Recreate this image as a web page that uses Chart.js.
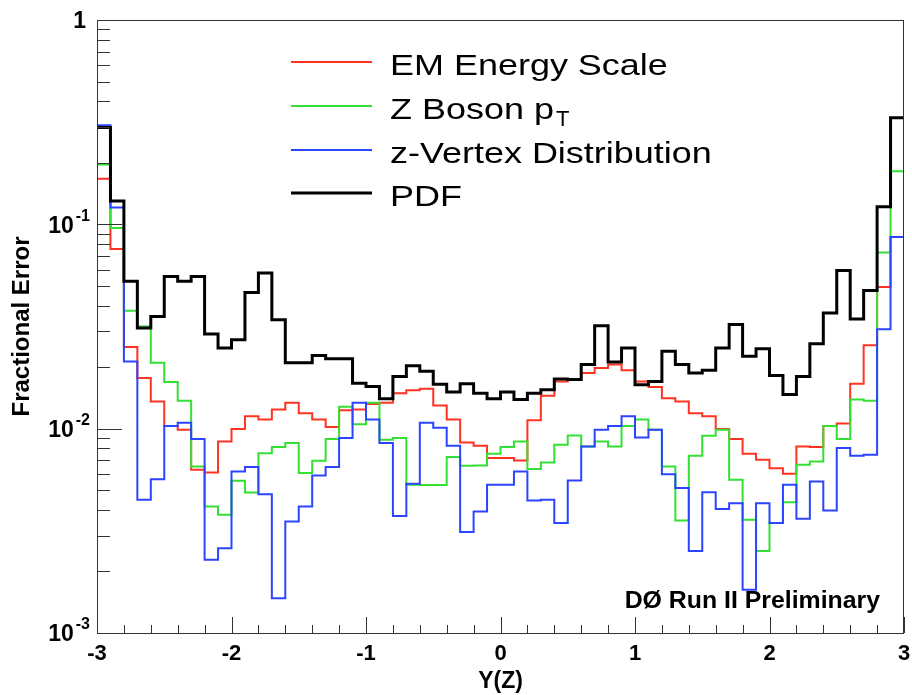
<!DOCTYPE html>
<html>
<head>
<meta charset="utf-8">
<script src="https://cdn.jsdelivr.net/npm/chart.js@4.4.0/dist/chart.umd.min.js"></script>
<style>
html,body{margin:0;padding:0;background:#fff;}
#c{display:block;}
</style>
</head>
<body>
<canvas id="c" width="912" height="695"></canvas>
<script>
// ---- data ----
const binEdges = [-3.0,-2.9,-2.8,-2.7,-2.6,-2.5,-2.4,-2.3,-2.2,-2.1,
  -2.0,-1.9,-1.8,-1.7,-1.6,-1.5,-1.4,-1.3,-1.2,-1.1,
  -1.0,-0.9,-0.8,-0.7,-0.6,-0.5,-0.4,-0.3,-0.2,-0.1,
  0.0,0.1,0.2,0.3,0.4,0.5,0.6,0.7,0.8,0.9,
  1.0,1.1,1.2,1.3,1.4,1.5,1.6,1.7,1.8,1.9,
  2.0,2.1,2.2,2.3,2.4,2.5,2.6,2.7,2.8,2.9,3.0];

const emEnergyScale = [0.167,0.0758,0.0251,0.0177,0.0136,0.0103,0.00988,0.00629,0.00610,0.00866,
  0.00995,0.0115,0.0111,0.0124,0.0134,0.0119,0.0111,0.0102,0.0123,0.0124,
  0.0132,0.0134,0.0149,0.0154,0.0157,0.0130,0.0111,0.00856,0.00824,0.00718,
  0.00718,0.00699,0.0110,0.0145,0.0170,0.0174,0.0187,0.0198,0.0206,0.0193,
  0.0170,0.0160,0.0141,0.0136,0.0119,0.0115,0.00995,0.00890,0.00753,0.00704,
  0.00641,0.00601,0.00818,0.00814,0.0103,0.0106,0.0166,0.0256,0.0494,0.0868];

const zBosonPt = [0.196,0.0960,0.0378,0.0316,0.0210,0.0169,0.0137,0.00653,0.00416,0.00379,
  0.00556,0.00487,0.00759,0.00813,0.00850,0.00606,0.00696,0.00890,0.0128,0.0105,
  0.0134,0.00882,0.00899,0.00531,0.00530,0.00530,0.00726,0.00658,0.00660,0.00753,
  0.00813,0.00866,0.00634,0.00683,0.00834,0.00926,0.00818,0.00866,0.00818,0.0103,
  0.0111,0.00988,0.00653,0.00355,0.00737,0.00923,0.00988,0.00562,0.00358,0.00252,
  0.00345,0.00437,0.00666,0.00691,0.0103,0.00890,0.0139,0.0137,0.0729,0.182];

const zVertex = [0.305,0.121,0.0213,0.00449,0.00566,0.0103,0.0107,0.00890,0.00228,0.00260,
  0.00617,0.00649,0.00478,0.00148,0.00351,0.00416,0.00590,0.00649,0.00899,0.0134,
  0.0111,0.00850,0.00374,0.00537,0.0107,0.0101,0.00824,0.00312,0.00393,0.00531,
  0.00531,0.00617,0.00445,0.00449,0.00345,0.00557,0.00818,0.00988,0.0103,0.0115,
  0.00905,0.00988,0.00599,0.00512,0.00252,0.00489,0.00405,0.00432,0.00163,0.00432,
  0.00345,0.00531,0.00362,0.00551,0.00398,0.00804,0.00737,0.00745,0.0307,0.0868];

const pdf = [0.298,0.130,0.0526,0.0311,0.0354,0.0556,0.0526,0.0556,0.0291,0.0248,
  0.0272,0.0464,0.0578,0.0341,0.0210,0.0210,0.0228,0.0220,0.0220,0.0167,
  0.0161,0.0140,0.0180,0.0203,0.0191,0.0165,0.0151,0.0166,0.0149,0.0140,
  0.0151,0.0139,0.0149,0.0155,0.0175,0.0174,0.0206,0.0319,0.0212,0.0248,
  0.0164,0.0170,0.0239,0.0206,0.0187,0.0193,0.0248,0.0323,0.0226,0.0246,
  0.0182,0.0147,0.0180,0.0260,0.0368,0.0595,0.0344,0.0475,0.122,0.332];

const seriesNames = ['EM Energy Scale','Z Boson p','z-Vertex Distribution','PDF'];
const seriesSubs  = ['','T','',''];
const seriesColors = ['#ff3322','#33e033','#2a44ff','#000000'];

const xTickLabels = ['-3','-2','-1','0','1','2','3'];
const yDecades = [1, 0.1, 0.01, 0.001];
const yDecadeBase = ['1','10','10','10'];
const yDecadeExp = ['','-1','-2','-3'];

const FONT = '"Liberation Sans", Arial, Helvetica, sans-serif';
Chart.defaults.font.family = FONT;

function steps(vals){
  const pts = vals.map((v,i)=>({x: binEdges[i], y: v}));
  pts.push({x: binEdges[vals.length], y: vals[vals.length-1]});
  return pts;
}

const seriesValues = [emEnergyScale, zBosonPt, zVertex, pdf];
const datasets = seriesValues.map((vals,i)=>({
  label: seriesNames[i] + seriesSubs[i],
  data: steps(vals),
  borderColor: seriesColors[i],
  backgroundColor: seriesColors[i],
  borderWidth: i===3 ? 3 : 2,
  stepped: 'before',
  pointRadius: 0,
  fill: false,
  order: 3 - i
}));

function stretchText(ctx, txt, x, y, sx){
  ctx.save(); ctx.translate(x,y); ctx.scale(sx,1); ctx.fillText(txt,0,0); ctx.restore();
}

const decor = {
  id: 'decor',
  afterDraw(chart){
    const {ctx, chartArea:a, scales:{x, y}} = chart;
    ctx.save();
    ctx.strokeStyle = '#333'; ctx.lineWidth = 1;
    // frame
    ctx.strokeRect(Math.round(a.left)+0.5, Math.round(a.top)+0.5,
                   Math.round(a.right-a.left)-1, Math.round(a.bottom-a.top));
    // x ticks
    ctx.beginPath();
    for (let i=0;i<=30;i++){
      const v = -3 + i*0.2;
      const px = Math.round(x.getPixelForValue(v))+0.5;
      const len = (i%5===0) ? 16 : 8;
      ctx.moveTo(px, a.bottom); ctx.lineTo(px, a.bottom-len);
    }
    // y ticks
    for (let d=0; d<yDecades.length; d++){
      const dv = yDecades[d];
      const py = Math.round(y.getPixelForValue(dv))+0.5;
      ctx.moveTo(a.left, py); ctx.lineTo(a.left+25, py);
      if (dv < 1){
        for (let m=2;m<=9;m++){
          const p2 = Math.round(y.getPixelForValue(dv*m))+0.5;
          ctx.moveTo(a.left, p2); ctx.lineTo(a.left+13, p2);
        }
      }
    }
    ctx.stroke();

    // y labels
    ctx.fillStyle = '#000';
    ctx.textBaseline = 'middle';
    for (let d=0; d<yDecades.length; d++){
      const py = y.getPixelForValue(yDecades[d]) + 2;
      const rightX = a.left - 7;
      if (!yDecadeExp[d]){
        ctx.font = 'bold 23px ' + FONT; ctx.textAlign = 'right';
        stretchText(ctx, yDecadeBase[d], rightX - 4, py, 1.0);
      } else {
        ctx.font = 'bold 16px ' + FONT;
        const ew = ctx.measureText(yDecadeExp[d]).width;
        ctx.textAlign = 'left';
        ctx.fillText(yDecadeExp[d], rightX - ew, py - 10);
        ctx.font = 'bold 23px ' + FONT; ctx.textAlign = 'right';
        ctx.fillText(yDecadeBase[d], rightX - ew - 2, py);
      }
    }

    // legend
    const legX0 = 291, legX1 = 372, legTextX = 390;
    const legY = [62, 106, 150, 193];
    ctx.textAlign = 'left'; ctx.textBaseline = 'alphabetic';
    for (let i=0;i<seriesNames.length;i++){
      ctx.strokeStyle = seriesColors[i];
      ctx.lineWidth = i===3 ? 3 : 2;
      ctx.beginPath(); ctx.moveTo(legX0, legY[i]); ctx.lineTo(legX1, legY[i]); ctx.stroke();
      ctx.fillStyle = '#000';
      ctx.font = '29px ' + FONT;
      stretchText(ctx, seriesNames[i], legTextX, legY[i] + 12.5, 1.24);
      if (seriesSubs[i]){
        const w = ctx.measureText(seriesNames[i]).width * 1.24;
        ctx.font = '22px ' + FONT;
        stretchText(ctx, seriesSubs[i], legTextX + w + 2, legY[i] + 20, 1.0);
      }
    }

    // annotation
    ctx.font = 'bold 23px ' + FONT;
    ctx.textAlign = 'left';
    const label = 'D\u00D8 Run II Preliminary';
    const lw = ctx.measureText(label).width * 1.08;
    stretchText(ctx, label, 880 - lw, 608, 1.08);
    ctx.restore();
  }
};

new Chart(document.getElementById('c'), {
  type: 'line',
  data: { datasets },
  options: {
    responsive: false,
    animation: false,
    devicePixelRatio: 1,
    layout: { padding: { top: 20, right: 8, left: 0, bottom: 0 } },
    plugins: { legend: { display: false }, tooltip: { enabled: false } },
    scales: {
      x: {
        type: 'linear', min: -3, max: 3,
        ticks: {
          stepSize: 1, autoSkip: false, maxRotation: 0, color: '#000', padding: 8,
          font: { size: 22, weight: 'bold' },
          callback: (v) => { const i = Math.round(v + 3); return (Math.abs(v - Math.round(v)) < 1e-9) ? xTickLabels[i] : ''; }
        },
        grid: { display: false, drawTicks: false },
        border: { display: false },
        title: { display: true, text: 'Y(Z)', color: '#000', font: { size: 23, weight: 'bold' }, padding: { top: 0, bottom: 0 } },
        afterFit(s){ s.height = 62; s.paddingLeft = 0; s.paddingRight = 0; }
      },
      y: {
        type: 'logarithmic', min: 0.001, max: 1,
        ticks: { display: false },
        grid: { display: false, drawTicks: false },
        border: { display: false },
        title: { display: true, text: 'Fractional Error', color: '#000', font: { size: 24, weight: 'bold' }, padding: { top: 8, bottom: 0 } },
        afterFit(s){ s.width = 97; s.paddingTop = 0; s.paddingBottom = 0; }
      }
    }
  },
  plugins: [decor]
});
</script>
</body>
</html>
